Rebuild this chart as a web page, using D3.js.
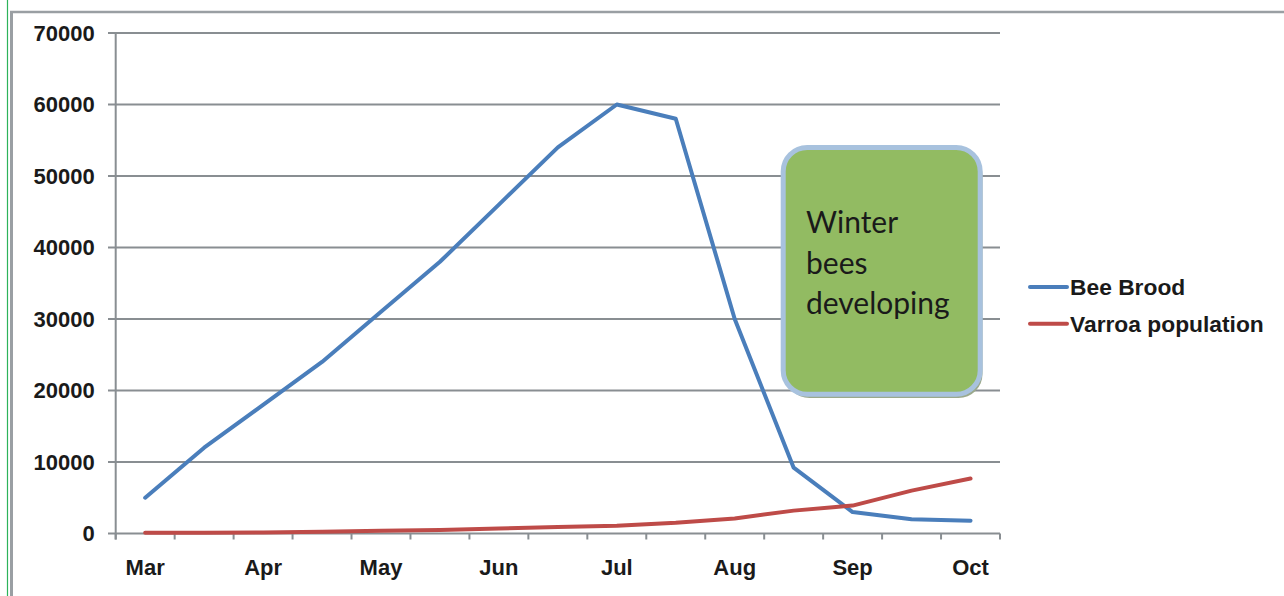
<!DOCTYPE html>
<html>
<head>
<meta charset="utf-8">
<script src="https://cdn.jsdelivr.net/npm/d3@7"></script>
<style>
    body { margin: 0; background: #fff; }
    svg { display: block; }
    .axis-label { font-family: "Liberation Sans", Arial, sans-serif; font-weight: bold; font-size: 22px; fill: #1a1a1a; }
    .legend-label { font-size: 22.8px; }
</style>
</head>
<body>
<div id="chart"></div>
<script>
// half-month steps, only month starts get a label
const categories = ["Mar", "", "Apr", "", "May", "", "Jun", "", "Jul", "", "Aug", "", "Sep", "", "Oct"];
const beeBrood = [5000, 12000, 18000, 24000, 31000, 38000, 46000, 54000, 60000, 58000, 30000, 9200, 3000, 2000, 1800];
const varroa = [100, 100, 150, 250, 400, 500, 700, 900, 1100, 1500, 2100, 3200, 3900, 6000, 7700];
const yTicks = [0, 10000, 20000, 30000, 40000, 50000, 60000, 70000];
const seriesNames = ["Bee Brood", "Varroa population"];
const boxLines = ["Winter", "bees", "developing"];

const WIDTH = 1284;
const HEIGHT = 596;
const colors = ["#4a7ebb", "#be4b48"];
const gridColor = "#898e92";

let svg = d3.select("#chart").append("svg")
    .attr("width", WIDTH)
    .attr("height", HEIGHT);

// outer frame (only top/left visible in the crop)
svg.append("line").attr("x1", 7.5).attr("x2", 7.5).attr("y1", 0).attr("y2", HEIGHT)
    .attr("stroke", "#2db35a").attr("stroke-width", 1.2);
svg.append("line").attr("x1", 11.5).attr("x2", 11.5).attr("y1", 11).attr("y2", HEIGHT)
    .attr("stroke", "#9a9fa3").attr("stroke-width", 3);
svg.append("line").attr("x1", 10).attr("x2", WIDTH).attr("y1", 12).attr("y2", 12)
    .attr("stroke", "#9a9fa3").attr("stroke-width", 2.5);

// scales
let x = d3.scaleBand()
    .domain(d3.range(categories.length))
    .range([115.7, 1000])
    .padding(0);

let y = d3.scaleLinear()
    .domain([0, 70000])
    .range([533.5, 33]);

let cx = i => x(i) + x.bandwidth() / 2;

// gridlines + y axis
let yAxis = d3.axisLeft(y)
    .tickValues(yTicks)
    .tickSize(0)
    .tickPadding(21)
    .tickFormat(d3.format("d"));

let gy = svg.append("g").attr("transform", "translate(115.7,0)").call(yAxis);
gy.select(".domain").remove();
gy.selectAll("text").attr("class", "axis-label").attr("font-family", null).attr("font-size", null).attr("fill", null);

svg.append("g").selectAll("line")
    .data(yTicks)
    .join("line")
    .attr("x1", 108)
    .attr("x2", 1000)
    .attr("y1", d => y(d))
    .attr("y2", d => y(d))
    .attr("stroke", gridColor)
    .attr("stroke-width", 2);

svg.append("line")
    .attr("x1", 115.7).attr("x2", 115.7)
    .attr("y1", y(70000)).attr("y2", y(0) + 6)
    .attr("stroke", gridColor).attr("stroke-width", 2);

// x axis ticks on category boundaries
let bounds = d3.range(categories.length + 1).map(i => 115.7 + i * x.bandwidth());
svg.append("g").selectAll("line")
    .data(bounds)
    .join("line")
    .attr("x1", d => d).attr("x2", d => d)
    .attr("y1", y(0)).attr("y2", y(0) + 6)
    .attr("stroke", gridColor).attr("stroke-width", 2);

svg.append("g").selectAll("text")
    .data(categories)
    .join("text")
    .attr("class", "axis-label")
    .attr("x", (d, i) => cx(i))
    .attr("y", 575)
    .attr("text-anchor", "middle")
    .text(d => d);

// lines
let line = d3.line()
    .x((d, i) => cx(i))
    .y(d => y(d));

[beeBrood, varroa].forEach((s, k) => {
    svg.append("path")
        .datum(s)
        .attr("d", line)
        .attr("fill", "none")
        .attr("stroke", colors[k])
        .attr("stroke-width", 4)
        .attr("stroke-linejoin", "round")
        .attr("stroke-linecap", "round");
});

// annotation box
let box = svg.append("g");
box.append("rect")
    .attr("x", 785.5).attr("y", 151)
    .attr("width", 197).attr("height", 247)
    .attr("rx", 24)
    .attr("fill", "#9ba98c");
box.append("rect")
    .attr("x", 783.2).attr("y", 147.5)
    .attr("width", 197).attr("height", 246.7)
    .attr("rx", 24)
    .attr("fill", "#92bb62")
    .attr("stroke", "#a8c2de")
    .attr("stroke-width", 5);
box.selectAll("text")
    .data(boxLines)
    .join("text")
    .attr("x", 806)
    .attr("y", (d, i) => 233 + i * 40.5)
    .attr("font-family", "Lato, 'Open Sans', sans-serif")
    .attr("font-size", 30)
    .attr("fill", "#1a1a1a")
    .text(d => d);

// legend
let legend = svg.append("g").selectAll("g")
    .data(seriesNames)
    .join("g")
    .attr("transform", (d, i) => "translate(0," + (i * 36.7) + ")");

legend.append("line")
    .attr("x1", 1030).attr("x2", 1067)
    .attr("y1", 287).attr("y2", 287)
    .attr("stroke", (d, i) => colors[i])
    .attr("stroke-width", 4)
    .attr("stroke-linecap", "round");

legend.append("text")
    .attr("class", "axis-label legend-label")
    .attr("x", 1070)
    .attr("y", 295)
    .text(d => d);
</script>
</body>
</html>
